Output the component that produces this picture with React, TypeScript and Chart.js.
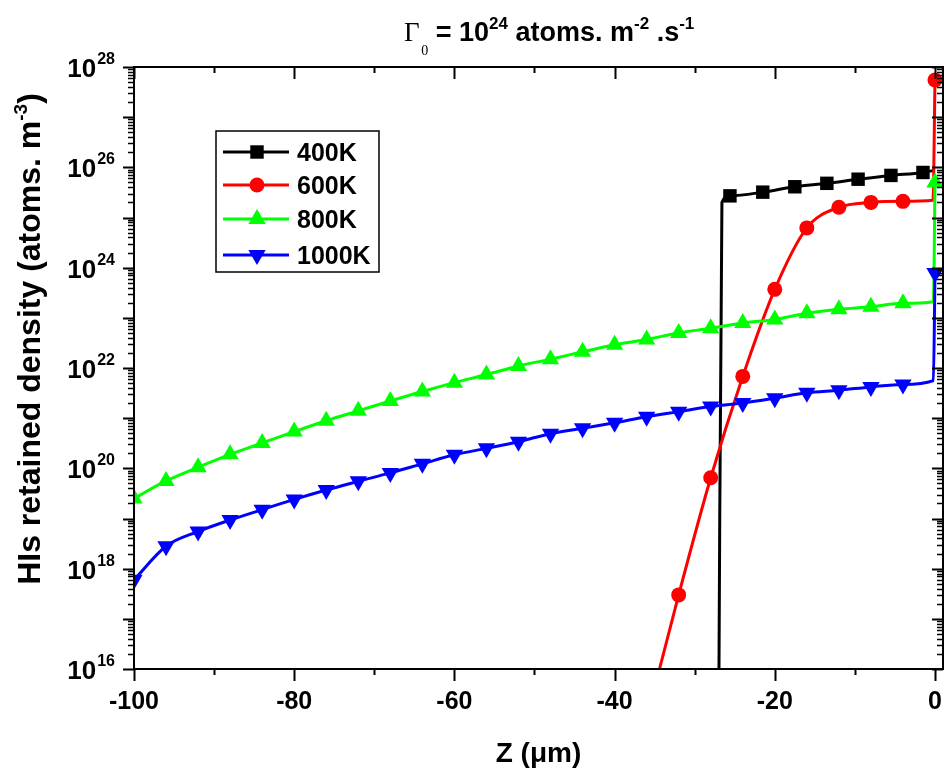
import React, { useEffect, useRef } from 'react';
import { Chart, registerables } from 'chart.js';

Chart.register(...registerables);

// ---- Data (Z in µm, density in atoms·m^-3) ----
const z400 = [-27.0, -26.6, -25.6, -21.5, -17.5, -13.5, -9.6, -5.5, -1.5, -0.1];
const n400 = [1e15, 2.0e25, 2.7e25, 3.2e25, 4.1e25, 4.8e25, 5.8e25, 6.9e25, 7.9e25, 8.7e25];
const mark400 = [2, 3, 4, 5, 6, 7, 8];

const z600 = [-36, -32, -28, -24, -20, -16, -12, -8, -4, -0.25, 0];
const n600 = [1e15, 3.0e17, 6.5e19, 6.8e21, 3.7e23, 6.2e24, 1.6e25, 2.0e25, 2.1e25, 2.2e25, 5.5e27];
const mark600 = [1, 2, 3, 4, 5, 6, 7, 8, 10];

const z800 = [-100, -96, -92, -88, -84, -80, -76, -72, -68, -64, -60, -56, -52, -48, -44, -40, -36, -32, -28, -24, -20, -16, -12, -8, -4, -0.2, 0];
const n800 = [2.5e19, 5.6e19, 1.05e20, 1.9e20, 3.2e20, 5.4e20, 8.9e20, 1.4e21, 2.2e21, 3.4e21, 5.1e21, 7.4e21, 1.1e22, 1.5e22, 2.1e22, 2.9e22, 3.7e22, 5.0e22, 6.2e22, 7.9e22, 9.3e22, 1.23e23, 1.48e23, 1.66e23, 1.95e23, 2.1e23, 5.0e25];
const mark800 = [0, 1, 2, 3, 4, 5, 6, 7, 8, 9, 10, 11, 12, 13, 14, 15, 16, 17, 18, 19, 20, 21, 22, 23, 24, 26];

const z1000 = [-100, -96, -92, -88, -84, -80, -76, -72, -68, -64, -60, -56, -52, -48, -44, -40, -36, -32, -28, -24, -20, -16, -12, -8, -4, -0.2, 0];
const n1000 = [6.0e17, 2.8e18, 5.5e18, 9.3e18, 1.5e19, 2.4e19, 3.7e19, 5.5e19, 8.1e19, 1.23e20, 1.86e20, 2.5e20, 3.4e20, 4.9e20, 6.3e20, 8.1e20, 1.07e21, 1.35e21, 1.7e21, 2.0e21, 2.5e21, 3.2e21, 3.6e21, 4.2e21, 4.7e21, 5.6e21, 7.8e23];
const mark1000 = [0, 1, 2, 3, 4, 5, 6, 7, 8, 9, 10, 11, 12, 13, 14, 15, 16, 17, 18, 19, 20, 21, 22, 23, 24, 26];

const seriesLabels = ['400K', '600K', '800K', '1000K'];

// ---- Axis ticks ----
const xMajorTicks = [-100, -80, -60, -40, -20, 0];
const xMinorTicks = [-90, -70, -50, -30, -10];
const yLabelExps = [16, 18, 20, 22, 24, 26, 28];
const yDecadeExps = [16, 17, 18, 19, 20, 21, 22, 23, 24, 25, 26, 27, 28];
const yMinorMults = [2, 3, 4, 5, 6, 7, 8, 9];

const SANS = '"Liberation Sans", Arial, sans-serif';
const SERIF = '"Liberation Serif", "Times New Roman", serif';

const styles = [
  { color: '#000000', shape: 'rect', rot: 0, r: 9.5 },
  { color: '#ff0000', shape: 'circle', rot: 0, r: 7.5 },
  { color: '#00ff00', shape: 'triangle', rot: 0, r: 10 },
  { color: '#0000ff', shape: 'triangle', rot: 180, r: 10 },
];

function toPoints(z: number[], n: number[]) {
  return z.map((x, i) => ({ x, y: n[i] }));
}

function drawMarker(ctx: CanvasRenderingContext2D, shape: string, rot: number, r: number, x: number, y: number, color: string) {
  ctx.save();
  ctx.fillStyle = color;
  ctx.beginPath();
  if (shape === 'rect') {
    const s = Math.SQRT1_2 * r;
    ctx.rect(x - s, y - s, 2 * s, 2 * s);
  } else if (shape === 'circle') {
    ctx.arc(x, y, r, 0, Math.PI * 2);
  } else {
    const base = (rot * Math.PI) / 180 - Math.PI / 2;
    for (let k = 0; k < 3; k++) {
      const a = base + (k * 2 * Math.PI) / 3;
      const px = x + Math.cos(a) * r;
      const py = y + Math.sin(a) * r;
      if (k === 0) ctx.moveTo(px, py);
      else ctx.lineTo(px, py);
    }
    ctx.closePath();
  }
  ctx.fill();
  ctx.restore();
}

const decorPlugin = {
  id: 'decor',
  afterDraw(chart: any) {
    const ctx: CanvasRenderingContext2D = chart.ctx;
    const { left, right, top, bottom } = chart.chartArea;
    const xs = chart.scales.x;
    const ys = chart.scales.y;
    ctx.save();
    ctx.strokeStyle = '#000';
    ctx.fillStyle = '#000';
    ctx.lineWidth = 2;
    ctx.strokeRect(left, top, right - left, bottom - top);

    // x ticks
    ctx.beginPath();
    for (const v of xMajorTicks) {
      const px = Math.round(xs.getPixelForValue(v)) + 0.5;
      ctx.moveTo(px, bottom); ctx.lineTo(px, bottom + 12);
      ctx.moveTo(px, top); ctx.lineTo(px, top + 12);
    }
    for (const v of xMinorTicks) {
      const px = Math.round(xs.getPixelForValue(v)) + 0.5;
      ctx.moveTo(px, bottom); ctx.lineTo(px, bottom + 6);
      ctx.moveTo(px, top); ctx.lineTo(px, top + 6);
    }
    ctx.stroke();

    // y ticks
    ctx.beginPath();
    for (const e of yDecadeExps) {
      const py = Math.round(ys.getPixelForValue(Math.pow(10, e))) + 0.5;
      ctx.moveTo(left - 11, py); ctx.lineTo(left, py);
      ctx.moveTo(right - 11, py); ctx.lineTo(right, py);
    }
    ctx.stroke();
    ctx.lineWidth = 1.5;
    ctx.beginPath();
    for (const e of yDecadeExps.slice(0, -1)) {
      for (const m of yMinorMults) {
        const py = Math.round(ys.getPixelForValue(m * Math.pow(10, e))) + 0.5;
        ctx.moveTo(left - 6, py); ctx.lineTo(left, py);
        ctx.moveTo(right - 6, py); ctx.lineTo(right, py);
      }
    }
    ctx.stroke();

    // x tick labels
    ctx.font = `bold 25px ${SANS}`;
    ctx.textAlign = 'center';
    ctx.textBaseline = 'alphabetic';
    for (const v of xMajorTicks) {
      ctx.fillText(String(v), xs.getPixelForValue(v), bottom + 40);
    }

    // y tick labels (10^n)
    ctx.textAlign = 'right';
    for (const e of yLabelExps) {
      const py = ys.getPixelForValue(Math.pow(10, e));
      ctx.font = `bold 16px ${SANS}`;
      const sw = ctx.measureText(String(e)).width;
      ctx.fillText(String(e), left - 19, py - 3);
      ctx.font = `bold 26px ${SANS}`;
      ctx.fillText('10', left - 19 - sw - 1, py + 10);
    }

    // title
    ctx.textAlign = 'left';
    let tx = 404;
    const tb = 41;
    const parts: [string, string, number][] = [
      ['Γ', `27px ${SERIF}`, 0],
      [' ', `6px ${SANS}`, 0],
      ['0', `14px ${SERIF}`, 14],
      [' = 10', `bold 27px ${SANS}`, 0],
      ['24', `bold 17px ${SANS}`, -12],
      [' atoms. m', `bold 27px ${SANS}`, 0],
      ['-2', `bold 17px ${SANS}`, -12],
      [' .s', `bold 27px ${SANS}`, 0],
      ['-1', `bold 17px ${SANS}`, -12],
    ];
    for (const [t, f, dy] of parts) {
      ctx.font = f;
      ctx.fillText(t, tx, tb + dy);
      tx += ctx.measureText(t).width;
    }

    // x axis title
    ctx.font = `bold 28px ${SANS}`;
    ctx.textAlign = 'center';
    ctx.fillText('Z (\u03bcm)', (left + right) / 2, 762);

    // y axis title
    const F = 32;
    const yparts: [string, number, number][] = [
      ['HIs retained density (atoms. m', F, 0],
      ['-3', Math.round(F * 0.6), -Math.round(F * 0.42)],
      [')', F, 0],
    ];
    let total = 0;
    for (const [t, s] of yparts) {
      ctx.font = `bold ${s}px ${SANS}`;
      total += ctx.measureText(t).width;
    }
    ctx.save();
    ctx.translate(40, 339);
    ctx.rotate(-Math.PI / 2);
    ctx.textAlign = 'left';
    let ox = -total / 2;
    for (const [t, s, dy] of yparts) {
      ctx.font = `bold ${s}px ${SANS}`;
      ctx.fillText(t, ox, dy);
      ox += ctx.measureText(t).width;
    }
    ctx.restore();

    // legend
    ctx.lineWidth = 1.5;
    ctx.strokeStyle = '#000';
    ctx.strokeRect(216, 131, 163, 141);
    const rows = [152, 185, 219, 255];
    seriesLabels.forEach((lab, i) => {
      const st = styles[i];
      const y = rows[i];
      ctx.strokeStyle = st.color;
      ctx.lineWidth = 3;
      ctx.beginPath();
      ctx.moveTo(223, y); ctx.lineTo(289, y);
      ctx.stroke();
      drawMarker(ctx, st.shape, st.rot, st.r, 257, y, st.color);
      ctx.fillStyle = '#000';
      ctx.font = `bold 25px ${SANS}`;
      ctx.textAlign = 'left';
      ctx.fillText(lab, 297, y + 9);
    });
    ctx.restore();
  },
};

export default function App() {
  const ref = useRef<HTMLCanvasElement | null>(null);
  useEffect(() => {
    if (!ref.current) return;
    const series = [
      { z: z400, n: n400, m: mark400 },
      { z: z600, n: n600, m: mark600 },
      { z: z800, n: n800, m: mark800 },
      { z: z1000, n: n1000, m: mark1000 },
    ];
    const datasets = series.map((s, i) => {
      const st = styles[i];
      return {
        label: seriesLabels[i],
        data: toPoints(s.z, s.n),
        borderColor: st.color,
        backgroundColor: st.color,
        borderWidth: 3,
        cubicInterpolationMode: 'monotone' as const,
        pointStyle: st.shape,
        pointRotation: st.rot,
        pointBorderWidth: 0,
        pointRadius: (c: any) => (s.m.includes(c.dataIndex) ? st.r : 0),
        pointHoverRadius: 0,
        order: 4 - i,
        clip: 0,
      };
    });
    const chart = new Chart(ref.current, {
      type: 'line',
      data: { datasets: datasets as any },
      options: {
        animation: false,
        responsive: false,
        events: [],
        layout: { autoPadding: false, padding: { left: 134, right: 1, top: 67, bottom: 102 } },
        scales: {
          x: { type: 'linear', min: -100, max: 1, display: false },
          y: { type: 'logarithmic', min: 1e16, max: 1e28, display: false },
        },
        plugins: { legend: { display: false }, title: { display: false }, tooltip: { enabled: false } },
      },
      plugins: [decorPlugin],
    });
    return () => chart.destroy();
  }, []);
  return (
    <div style={{ position: 'absolute', left: 0, top: 0, width: 944, height: 771, background: '#fff' }}>
      <canvas ref={ref} width={944} height={771} style={{ width: 944, height: 771, display: 'block' }} />
    </div>
  );
}
